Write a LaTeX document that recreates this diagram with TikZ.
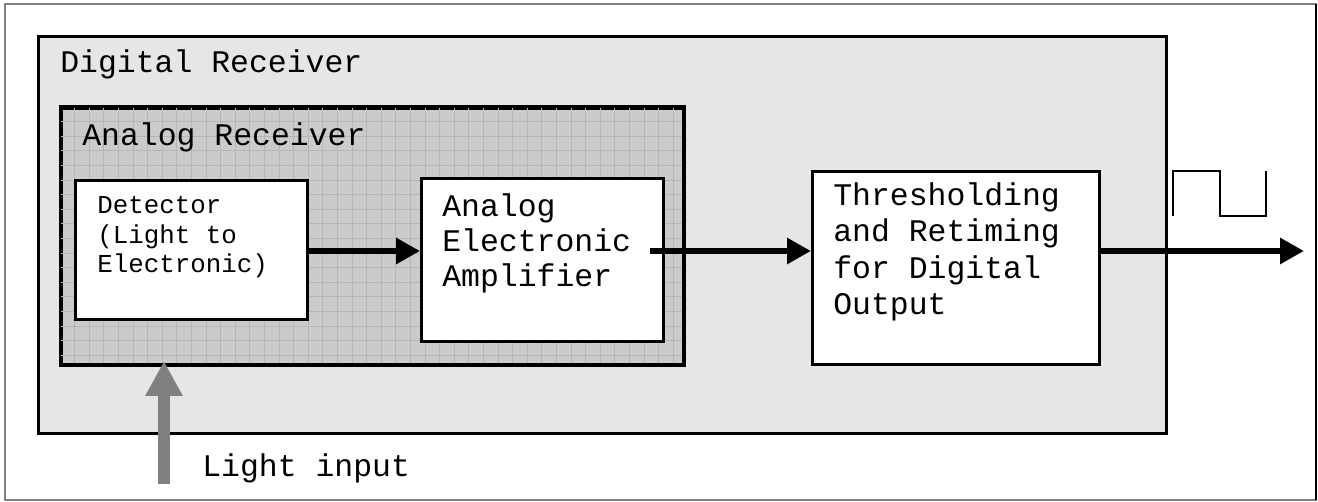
\documentclass[tikz,border=0pt]{standalone}
\usepackage{fontspec}
\setmainfont{Liberation Mono}
\usetikzlibrary{arrows.meta, positioning}

\definecolor{digifill}{HTML}{E6E6E6}
\definecolor{anafill}{HTML}{CBCBCB}
\definecolor{gridgray}{HTML}{B6B6B6}
\definecolor{lightgray}{HTML}{808080}

\tikzset{
  blk/.style={draw=black, line width=1.7pt, inner sep=0pt, anchor=north west},
  lbl/.style={inner sep=0pt, anchor=base west, align=left,
    font=\fontsize{17.9pt}{20.8pt}\selectfont},
  small/.style={font=\fontsize{14.7pt}{16.7pt}\selectfont},
  sig/.style={line width=3.7pt, -{Triangle[length=0.48cm, width=0.5cm]}},
  lightarr/.style={lightgray, line width=6.8pt, -{Triangle[length=0.7cm, width=0.7cm]}}
}

\begin{document}
\begin{tikzpicture}[x=0.02cm, y=-0.02cm]
\useasboundingbox (0,0) rectangle (1318,502);
\draw[gray, line width=0.8pt] (5,4) rectangle (1316,500);
\draw[black, line width=1.1pt] (1316,4)--(1316,500);

% boxes
\node[blk, fill=digifill, minimum width=22.56cm, minimum height=7.94cm] (digi) at (37,35) {};
\node[blk, fill=anafill, minimum width=12.44cm, minimum height=5.12cm] (ana) at (60,107) {};
\begin{scope}[shift={(ana.north west)}]
  \clip (0,0) rectangle (622,256);
  \draw[gridgray, line width=0.4pt] (0,0) grid[step=0.292cm] (622,256);
\end{scope}
\draw[line width=1.7pt] (ana.north west) rectangle (ana.south east);
\node[blk, fill=white, minimum width=4.64cm, minimum height=2.78cm] (det) at (74,179) {};
\node[blk, fill=white, minimum width=4.84cm, minimum height=3.26cm] (amp) at (420,177) {};
\node[blk, fill=white, minimum width=5.74cm, minimum height=3.86cm] (thr) at (811,170) {};

% texts (base = last line)
\node[lbl] (digit) at (60,73) {Digital Receiver};
\node[lbl] (anat) at (82,146) {Analog Receiver};
\node[lbl, small] (dett) at (97,272.5) {Detector\\(Light to\\Electronic)};
\node[lbl, font=\fontsize{17.9pt}{20.1pt}\selectfont] (ampt) at (442,286.7) {Analog\\Electronic\\Amplifier};
\node[lbl, font=\fontsize{17.9pt}{20.8pt}\selectfont] (thrt) at (833,315) {Thresholding\\and Retiming\\for Digital\\Output};
\node[lbl] (lightt) at (202,477) {Light input};

% signal path
\coordinate (ampout) at (650,251);
\coordinate (outend) at (1304,251);
\draw[sig] (det.east |- ampout) -- (amp.west |- ampout);
\draw[sig] (ampout) -- (thr.west |- ampout);
\draw[sig] (thr.east |- outend) -- (outend);

% light input
\coordinate (src) at (164,484);
\coordinate (hit) at (164,361);
\draw[lightarr] (src) -- (hit);

% output pulse
\draw[line width=1.1pt] (1173,216)--(1173,171)--(1220,171)--(1220,216)--(1266,216)--(1266,171);
\end{tikzpicture}
\end{document}
